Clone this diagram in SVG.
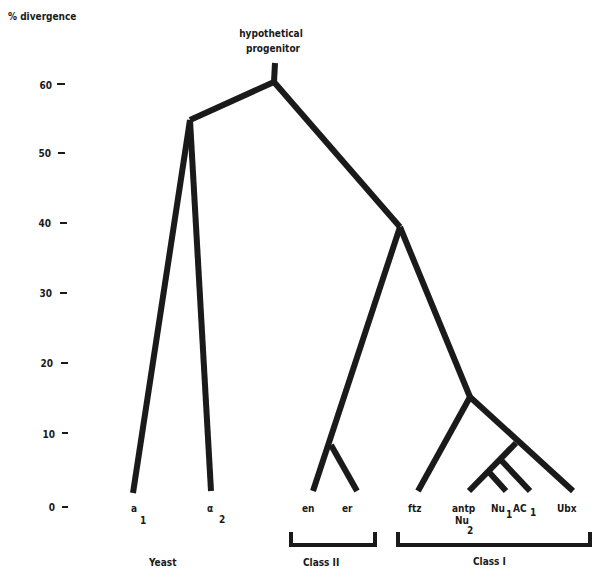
<svg xmlns="http://www.w3.org/2000/svg" width="602" height="577" viewBox="0 0 602 577">
<style>
.t{font-family:"DejaVu Sans Condensed","Liberation Sans",sans-serif;font-weight:bold;fill:#1a1a1a;font-size:10px}
.e{stroke:#1a1a1a;stroke-width:6;fill:none;stroke-linecap:butt;stroke-linejoin:miter}
.tk{stroke:#1a1a1a;stroke-width:2;fill:none}
.br{stroke:#1a1a1a;stroke-width:4;fill:none}
</style>
<rect width="602" height="577" fill="#fff"/>
<g id="axis">
<text class="t" x="8" y="20" font-size="11.5">% divergence</text>
<text class="t" x="52" y="89" text-anchor="end">60</text>
<text class="t" x="51" y="157" text-anchor="end">50</text>
<text class="t" x="51" y="227" text-anchor="end">40</text>
<text class="t" x="52" y="297" text-anchor="end">30</text>
<text class="t" x="53" y="367" text-anchor="end">20</text>
<text class="t" x="55" y="438" text-anchor="end">10</text>
<text class="t" x="55" y="511" text-anchor="end">0</text>
<path class="tk" d="M57 84H65M58 153H65M60 223H67M60 293H67M61 363H68M62 433H68M62 507H68"/>
</g>
<g id="connectors">
<path class="e" d="M275 63L274 82"/>
<path class="e" d="M274 82L190 120"/>
<path class="e" d="M190 120L133 493"/>
<path class="e" d="M190 120L211 491"/>
<path class="e" d="M274 82L400 227"/>
<path class="e" d="M400 227L313 491"/>
<path class="e" d="M331 445L357 491"/>
<path class="e" d="M400 227L470 397"/>
<path class="e" d="M470 397L418 491"/>
<path class="e" d="M470 397L573 491"/>
<path class="e" d="M516 443L469 491"/>
<path class="e" d="M500 459L530 491"/>
<path class="e" d="M488 471L506 491"/>
</g>
<g id="progenitor">
<text class="t" x="271" y="37" text-anchor="middle">hypothetical</text>
<text class="t" x="273" y="52" text-anchor="middle">progenitor</text>
</g>
<g id="a1"><text class="t" x="131" y="512" font-size="9">a</text><text class="t" x="140" y="524">1</text></g>
<g id="alpha2"><text class="t" x="207" y="512" font-size="9">α</text><text class="t" x="219" y="523">2</text></g>
<g id="en"><text class="t" x="302" y="512">en</text></g>
<g id="er"><text class="t" x="342" y="512">er</text></g>
<g id="ftz"><text class="t" x="408" y="512">ftz</text></g>
<g id="antp"><text class="t" x="452" y="512">antp</text><text class="t" x="455" y="524">Nu</text><text class="t" x="467" y="534" font-size="11">2</text></g>
<g id="nu1"><text class="t" x="491" y="512">Nu</text><text class="t" x="506" y="518">1</text></g>
<g id="ac1"><text class="t" x="513" y="512">AC</text><text class="t" x="530" y="516">1</text></g>
<g id="ubx"><text class="t" x="557" y="512">Ubx</text></g>
<g id="yeast"><text class="t" x="149" y="566">Yeast</text></g>
<g id="class2"><path class="br" d="M291 532V545H375V532"/><text class="t" x="303" y="566">Class II</text></g>
<g id="class1"><path class="br" d="M398 532V545H590V532"/><text class="t" x="473" y="565">Class I</text></g>
</svg>
